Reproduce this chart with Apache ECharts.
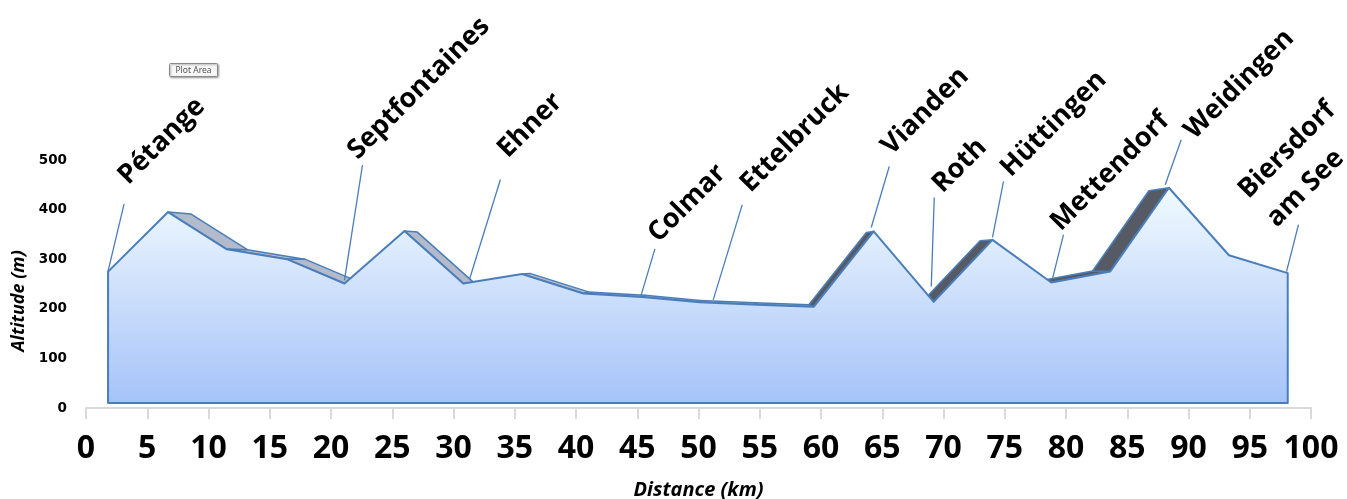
<!DOCTYPE html>
<html><head><meta charset="utf-8">
<script src="https://cdn.jsdelivr.net/npm/echarts@6.0.0/dist/echarts.min.js"></script>
<style>html,body{margin:0;padding:0;background:#fff}#c{width:1347px;height:499px}</style>
</head><body><div id="c"></div><script>
// ---- data ----
const distanceKm = [1.8, 6.7, 11.5, 16.4, 21.1, 26.0, 30.8, 35.6, 40.6, 45.4, 50.1, 54.8, 59.4, 64.3, 69.2, 74.0, 78.8, 83.6, 88.4, 93.3, 98.1];
const altitudeM  = [275, 395, 320, 300, 251, 357, 251, 270, 231, 224, 213, 208, 204, 356, 214, 339, 253, 275, 444, 308, 272];
const placeNames = ['Pétange', 'Septfontaines', 'Ehner', 'Colmar', 'Ettelbruck', 'Vianden', 'Roth', 'Hüttingen', 'Mettendorf', 'Weidingen', 'Biersdorf\nam See'];
const placeKm    = [1.8, 21.1, 31.3, 45.3, 51.2, 64.1, 69.0, 74.0, 78.9, 88.1, 98.0];
const placeAlt   = [276, 258, 259, 226, 218, 364, 245, 344, 261, 450, 275];

// ---- style / layout (pixels) ----
const leaderVec  = [[16,-67],[18,-115],[31,-100],[14,-47],[29,-95],[18,-61],[3,-89],[11,-56],[11,-44],[16,-45],[12,-47]];
const textOffset = [[13,-10],[4,4],[16,-12],[12,3],[17,-3],[11,-2],[17,5],[16,5],[6,6],[22,9],[-13,12]];
const depth = { km: 50.4, alt: 302, k: 0.043 };
const edgeBlue = '#4a7ebb';

const chart = echarts.init(document.getElementById('c'));
chart.setOption({
  animation: false,
  backgroundColor: '#ffffff',
  grid: { left: 86, right: 36, top: 160, bottom: 91, containLabel: false, outerBoundsMode: 'none' },
  xAxis: {
    type: 'value', min: 0, max: 100, interval: 5,
    name: 'Distance (km)', nameLocation: 'middle', nameGap: 72,
    nameTextStyle: { fontFamily: 'Open Sans', fontWeight: 'bold', fontStyle: 'italic', fontSize: 20, color: '#000' },
    axisLine: { show: true, lineStyle: { color: '#d9d9d9', width: 2 } },
    axisTick: { show: true, length: 11, lineStyle: { color: '#d9d9d9', width: 2 } },
    axisLabel: { margin: 25, fontFamily: 'Open Sans', fontWeight: 'bold', fontSize: 32, color: '#000' },
    splitLine: { show: false }
  },
  yAxis: {
    type: 'value', min: 0, max: 500, interval: 100,
    name: 'Altitude (m)', nameLocation: 'middle', nameGap: 52, nameRotate: 90,
    nameTextStyle: { fontFamily: 'Open Sans', fontWeight: 'bold', fontStyle: 'italic', fontSize: 18, color: '#000', padding: [0, 34, 0, 0] },
    axisLine: { show: false }, axisTick: { show: false },
    axisLabel: { margin: 19, fontFamily: 'DejaVu Sans', fontWeight: 'bold', fontSize: 13.5, color: '#000' },
    splitLine: { show: false }
  },
  graphic: [{
    type: 'group', left: 169, top: 63,
    children: [
      { type: 'rect', shape: { x: 0, y: 0, width: 48, height: 13, r: 1 },
        style: { fill: '#f7f7f7', stroke: '#8a8a8a', lineWidth: 1, shadowBlur: 2, shadowOffsetX: 1, shadowOffsetY: 1, shadowColor: 'rgba(0,0,0,0.35)' } },
      { type: 'text', x: 24, y: 7, style: { text: 'Plot Area', fontFamily: 'Noto Sans', fontSize: 8.5, fill: '#555', align: 'center', verticalAlign: 'middle' } }
    ]
  }],
  series: [
    {
      name: 'top', type: 'custom', z: 1, clip: false,
      data: distanceKm.slice(0, -1).map((k, i) => [k, altitudeM[i]]),
      encode: { x: 0, y: 1 },
      renderItem: function (params, api) {
        const i = params.dataIndex;
        const p0 = api.coord([distanceKm[i], altitudeM[i]]);
        const p1 = api.coord([distanceKm[i + 1], altitudeM[i + 1]]);
        const v = api.coord([depth.km, depth.alt]);
        const b = p => [p[0] + depth.k * (v[0] - p[0]), p[1] + depth.k * (v[1] - p[1])];
        const mid = [(p0[0] + p1[0]) / 2, (p0[1] + p1[1]) / 2];
        const o = [depth.k * (v[0] - mid[0]), depth.k * (v[1] - mid[1])];
        const cross = (p1[0] - p0[0]) * o[1] - (p1[1] - p0[1]) * o[0];
        if (cross >= 0) return null;
        const descending = altitudeM[i + 1] < altitudeM[i];
        return {
          type: 'polygon',
          shape: { points: [p0, p1, b(p1), b(p0)] },
          style: { fill: descending ? '#b2bacb' : '#565a64', stroke: edgeBlue, lineWidth: 1.5, lineJoin: 'round' }
        };
      }
    },
    {
      name: 'profile', type: 'custom', z: 2, clip: false,
      data: [[distanceKm[0], altitudeM[0]]],
      encode: { x: 0, y: 1 },
      renderItem: function (params, api) {
        const pts = distanceKm.map((k, i) => api.coord([k, altitudeM[i]]));
        const yb = api.coord([0, 0])[1] - 5;
        const poly = pts.concat([[pts[pts.length - 1][0], yb], [pts[0][0], yb]]);
        return {
          type: 'polygon',
          shape: { points: poly },
          style: {
            fill: new echarts.graphic.LinearGradient(0, 0, 0, 1, [
              { offset: 0, color: '#f0fbff' },
              { offset: 0.35, color: '#d8e7fc' },
              { offset: 1, color: '#a5c3f9' }
            ]),
            stroke: edgeBlue, lineWidth: 2, lineJoin: 'round'
          }
        };
      }
    },
    {
      name: 'places', type: 'custom', z: 3, clip: false,
      data: placeKm.map((k, i) => [k, placeAlt[i]]),
      encode: { x: 0, y: 1 },
      renderItem: function (params, api) {
        const i = params.dataIndex;
        const p = api.coord([api.value(0), api.value(1)]);
        const t = [p[0] + leaderVec[i][0], p[1] + leaderVec[i][1]];
        return {
          type: 'group',
          children: [
            { type: 'line', shape: { x1: p[0], y1: p[1], x2: t[0], y2: t[1] }, style: { stroke: edgeBlue, lineWidth: 1.3 } },
            { type: 'text', x: t[0] + textOffset[i][0], y: t[1] + textOffset[i][1], rotation: Math.PI / 4,
              style: { text: placeNames[i], fontFamily: 'Open Sans', fontWeight: 'bold', fontSize: 27, fill: '#000',
                       align: 'left', verticalAlign: 'bottom', lineHeight: 40 } }
          ]
        };
      }
    }
  ]
});
</script></body></html>
